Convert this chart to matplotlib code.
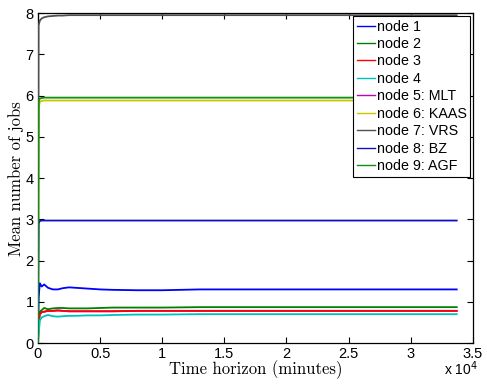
"""Mean number of jobs per node over the simulated time horizon."""
import matplotlib
matplotlib.use("Agg")
import matplotlib.pyplot as plt
from matplotlib.ticker import FuncFormatter

plt.rcParams["font.family"] = ["Liberation Sans", "DejaVu Sans"]

# time points (minutes) and running means
t = [0, 50, 150, 300, 500, 800, 1200, 1600, 2000, 2500, 3000, 4000, 5000,
     6000, 8000, 10000, 13000, 16000, 20000, 25000, 30000, 33700]

node1 = [0, 1.10, 1.45, 1.37, 1.42, 1.34, 1.30, 1.30, 1.33, 1.35, 1.34, 1.32,
         1.30, 1.29, 1.28, 1.28, 1.30, 1.30, 1.30, 1.30, 1.30, 1.30]
node2 = [0, 0.60, 0.76, 0.80, 0.85, 0.82, 0.84, 0.85, 0.85, 0.84, 0.84, 0.84,
         0.85, 0.86, 0.86, 0.86, 0.87, 0.87, 0.87, 0.87, 0.87, 0.87]
node3 = [0, 0.50, 0.70, 0.75, 0.76, 0.78, 0.78, 0.79, 0.78, 0.77, 0.77, 0.77,
         0.77, 0.77, 0.78, 0.78, 0.78, 0.78, 0.78, 0.78, 0.78, 0.78]
node4 = [0, 0.20, 0.55, 0.62, 0.65, 0.68, 0.65, 0.64, 0.65, 0.66, 0.66, 0.67,
         0.67, 0.68, 0.69, 0.69, 0.70, 0.70, 0.70, 0.70, 0.70, 0.70]
node5 = [0, 0.50, 0.70, 0.75, 0.76, 0.78, 0.78, 0.79, 0.78, 0.77, 0.77, 0.77,
         0.77, 0.77, 0.78, 0.78, 0.78, 0.78, 0.78, 0.78, 0.78, 0.78]
node6 = [0, 5.70, 5.85, 5.87, 5.88, 5.88, 5.88, 5.88, 5.88, 5.88, 5.88, 5.88,
         5.88, 5.88, 5.88, 5.88, 5.88, 5.88, 5.88, 5.88, 5.88, 5.88]
node7 = [0, 7.70, 7.82, 7.87, 7.90, 7.92, 7.93, 7.94, 7.94, 7.95, 7.95, 7.95,
         7.95, 7.95, 7.95, 7.95, 7.95, 7.95, 7.95, 7.95, 7.95, 7.95]
node8 = [0, 2.90, 2.96, 2.97, 2.97, 2.97, 2.97, 2.97, 2.97, 2.97, 2.97, 2.97,
         2.97, 2.97, 2.97, 2.97, 2.97, 2.97, 2.97, 2.97, 2.97, 2.97]
node9 = [0, 5.85, 5.93, 5.94, 5.95, 5.95, 5.95, 5.95, 5.95, 5.95, 5.95, 5.95,
         5.95, 5.95, 5.95, 5.95, 5.95, 5.95, 5.95, 5.95, 5.95, 5.95]

series = [node1, node2, node3, node4, node5, node6, node7, node8, node9]
labels = ["node 1", "node 2", "node 3", "node 4", "node 5: MLT",
          "node 6: KAAS", "node 7: VRS", "node 8: BZ", "node 9: AGF"]
colors = ["#0000ff", "#008000", "#ff0000", "#00bfbf", "#bf00bf",
          "#c8c800", "#505050", "#1010c0", "#109010"]
# node 5 lies underneath node 3 in the original figure
zorders = [3, 3, 3, 3, 2, 3, 3, 3, 3]

fig = plt.figure(figsize=(4.87, 3.85), dpi=100)
ax = fig.add_axes([0.078, 0.109, 0.893, 0.857])

for y, lab, col, z in zip(series, labels, colors, zorders):
    ax.plot(t, y, color=col, lw=1.3, label=lab, zorder=z)

ax.set_xlim(0, 35000)
ax.set_ylim(0, 8)
ax.set_xticks([0, 5000, 10000, 15000, 20000, 25000, 30000, 35000])
ax.xaxis.set_major_formatter(FuncFormatter(lambda v, p: f"{v / 1e4:g}"))
ax.tick_params(direction="in", top=True, right=True, labelsize=10.5,
               length=4, width=0.8, pad=3)
for s in ax.spines.values():
    s.set_linewidth(0.9)

ax.set_xlabel("Time horizon (minutes)", fontname="cmr10", fontsize=12,
              labelpad=-1)
ax.set_ylabel("Mean number of jobs", fontname="cmr10", fontsize=12,
              labelpad=1)
fig.text(0.946, 0.025, r"x 10$^{4}$", fontsize=10, ha="center")

leg = ax.legend(loc="upper right", fontsize=10.3, handlelength=1.3,
                handletextpad=0.1, labelspacing=0.24, borderpad=0.25,
                fancybox=False, framealpha=1, borderaxespad=0.2)
leg.get_frame().set_edgecolor("black")
leg.get_frame().set_linewidth(0.8)
for line in leg.get_lines():
    line.set_linewidth(1.0)

fig.savefig("out.png", dpi=100)
